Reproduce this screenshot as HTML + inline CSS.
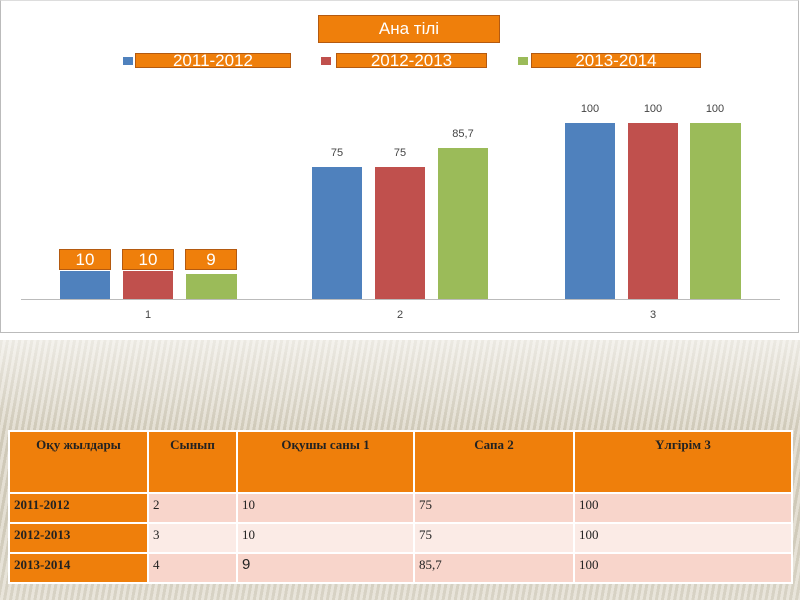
<!DOCTYPE html>
<html><head><meta charset="utf-8"><style>
body{margin:0;width:800px;height:600px;overflow:hidden;position:relative;background:#fff;font-family:"Liberation Sans",sans-serif}
.a{position:absolute}
.bg{left:0;top:340px;width:800px;height:260px;background:repeating-linear-gradient(100deg,#cfc9b8 0 3px,#e4dfd3 3px 6px);}
.bg2{left:0;top:340px;width:800px;height:260px;background:linear-gradient(#ffffff99,#ffffff00 35%,#ffffff00 70%,#ffffff30)}
.ob{background:#ef7f0b;border:1px solid #b45a10;color:#fff;text-align:center;box-sizing:border-box}
.lb{font-size:11px;color:#444;text-align:center;width:50px}
table{border-collapse:collapse;table-layout:fixed;font-family:"Liberation Serif",serif;font-size:13px;color:#222}
td{border:2px solid #fff;vertical-align:top;padding:3px 4px;height:30px;line-height:16px;box-sizing:border-box;overflow:hidden}
th{border:2px solid #fff;background:#ef7f0b;vertical-align:top;padding:5px 4px 0;font-weight:bold;font-size:13px;height:62px;line-height:16px;color:#222;box-sizing:border-box}
td.y{background:#ef7f0b;font-weight:bold}
</style></head><body>
<div class="a" style="left:0;top:0;width:797px;height:331px;border:1px solid #bbb;border-top-color:#ddd"></div>
<div class="a ob" style="left:318px;top:15px;width:182px;height:28px;font-size:17px;line-height:26px">Ана тілі</div>
<div class="a" style="left:123px;top:57px;width:10px;height:8px;background:#4f81bd"></div>
<div class="a ob" style="left:135px;top:53px;width:156px;height:15px;font-size:17px;line-height:14px">2011-2012</div>
<div class="a" style="left:321px;top:57px;width:10px;height:8px;background:#c0504d"></div>
<div class="a ob" style="left:336px;top:53px;width:151px;height:15px;font-size:17px;line-height:14px">2012-2013</div>
<div class="a" style="left:518px;top:57px;width:10px;height:8px;background:#9bbb59"></div>
<div class="a ob" style="left:531px;top:53px;width:170px;height:15px;font-size:17px;line-height:14px">2013-2014</div>

<div class="a" style="left:21px;top:299px;width:759px;height:1px;background:#bbb"></div>

<div class="a" style="left:60px;top:271px;width:50px;height:28px;background:#4f81bd"></div>
<div class="a" style="left:123px;top:271px;width:50px;height:28px;background:#c0504d"></div>
<div class="a" style="left:186px;top:274px;width:51px;height:25px;background:#9bbb59"></div>
<div class="a ob" style="left:59px;top:249px;width:52px;height:21px;font-size:17px;line-height:19px">10</div>
<div class="a ob" style="left:122px;top:249px;width:52px;height:21px;font-size:17px;line-height:19px">10</div>
<div class="a ob" style="left:185px;top:249px;width:52px;height:21px;font-size:17px;line-height:19px">9</div>

<div class="a" style="left:312px;top:167px;width:50px;height:132px;background:#4f81bd"></div>
<div class="a" style="left:375px;top:167px;width:50px;height:132px;background:#c0504d"></div>
<div class="a" style="left:438px;top:148px;width:50px;height:151px;background:#9bbb59"></div>
<div class="a lb" style="left:312px;top:147px">75</div>
<div class="a lb" style="left:375px;top:147px">75</div>
<div class="a lb" style="left:438px;top:128px">85,7</div>

<div class="a" style="left:565px;top:123px;width:50px;height:176px;background:#4f81bd"></div>
<div class="a" style="left:628px;top:123px;width:50px;height:176px;background:#c0504d"></div>
<div class="a" style="left:690px;top:123px;width:51px;height:176px;background:#9bbb59"></div>
<div class="a lb" style="left:565px;top:103px">100</div>
<div class="a lb" style="left:628px;top:103px">100</div>
<div class="a lb" style="left:690px;top:103px">100</div>

<div class="a lb" style="left:123px;top:309px">1</div>
<div class="a lb" style="left:375px;top:309px">2</div>
<div class="a lb" style="left:628px;top:309px">3</div>

<div class="a bg"></div><div class="a bg2"></div>
<table class="a" style="left:8px;top:430px;width:783px">
<colgroup><col style="width:139px"><col style="width:89px"><col style="width:177px"><col style="width:160px"><col style="width:218px"></colgroup>
<tr><th>Оқу жылдары</th><th>Сынып</th><th>Оқушы саны 1</th><th>Сапа 2</th><th>Үлгірім 3</th></tr>
<tr style="background:#f8d5cb"><td class="y">2011-2012</td><td>2</td><td>10</td><td>75</td><td>100</td></tr>
<tr style="background:#fbebe6"><td class="y">2012-2013</td><td>3</td><td>10</td><td>75</td><td>100</td></tr>
<tr style="background:#f8d5cb"><td class="y">2013-2014</td><td>4</td><td style="font-family:'Liberation Sans';font-size:15px">9</td><td>85,7</td><td>100</td></tr>
</table>
</body></html>
